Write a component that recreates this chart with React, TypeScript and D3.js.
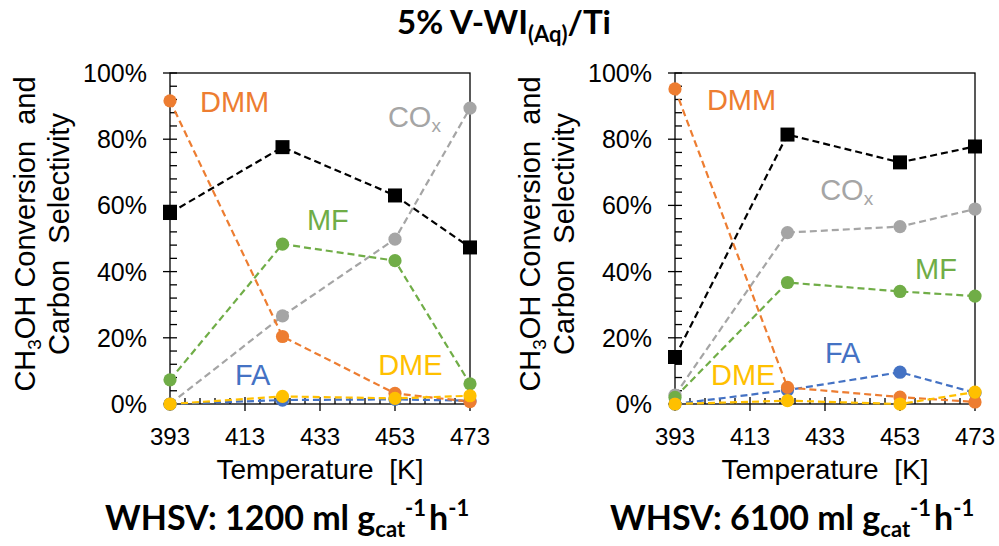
import React from "react";
import * as d3 from "d3";

// Reaction temperatures (K) and axis ticks
const temps = [393, 423, 453, 473];
const xTicks = [393, 413, 433, 453, 473];
const yTicks = [0, 20, 40, 60, 80, 100];

// WHSV 1200 ml g_cat^-1 h^-1 (values in %)
const conv1200 = [57.7, 77.6, 63.0, 47.3];
const dmm1200 = [91.6, 20.4, 3.2, 0.7];
const mf1200 = [7.3, 48.3, 43.3, 6.1];
const cox1200 = [0, 26.6, 49.8, 89.4];
const fa1200 = [0, 1.2, 1.4, 1.0];
const dme1200 = [0, 2.3, 1.7, 2.5];

// WHSV 6100 ml g_cat^-1 h^-1 (values in %)
const conv6100 = [14.2, 81.4, 73.0, 77.8];
const dmm6100 = [95.2, 5.0, 2.1, 0.6];
const mf6100 = [2.0, 36.7, 34.0, 32.6];
const cox6100 = [2.7, 51.8, 53.6, 58.9];
const fa6100 = [0, 4.2, 9.6, 3.4];
const dme6100 = [0, 1.0, 0, 3.6];

const whsvValues = ["1200", "6100"];

// Series label anchors: [temperature K, percent]
const labels1200 = {
  DMM: [401.0, 88.3],
  COx: [451.1, 83.8],
  MF: [429.5, 52.6],
  FA: [410.3, 5.7],
  DME: [448.5, 8.8],
};
const labels6100 = {
  DMM: [401.5, 88.8],
  COx: [431.7, 61.6],
  MF: [457.0, 37.8],
  FA: [433.0, 12.4],
  DME: [402.6, 5.7],
};

const COLORS = {
  conv: "#000000",
  DMM: "#ED7D31",
  COx: "#A5A5A5",
  MF: "#70AD47",
  FA: "#4472C4",
  DME: "#FFC000",
};

const SANS = "'Liberation Sans', Arial, sans-serif";
const BOLD = "Lato, 'Open Sans', sans-serif";

const W = 999;
const H = 546;
const PLOT_W = 300;
const PLOT_TOP = 73;
const PLOT_BOTTOM = 404;
const PANEL_STEP = 505;
const PLOT_LEFT0 = 170;

type PanelProps = {
  offset: number;
  conv: number[];
  dmm: number[];
  mf: number[];
  cox: number[];
  fa: number[];
  dme: number[];
  labels: Record<string, number[]>;
  whsv: string;
};

function Panel({ offset, conv, dmm, mf, cox, fa, dme, labels, whsv }: PanelProps) {
  const left = PLOT_LEFT0 + offset;
  const x = d3.scaleLinear().domain([393, 473]).range([left, left + PLOT_W]);
  const y = d3.scaleLinear().domain([0, 100]).range([PLOT_BOTTOM, PLOT_TOP]);
  const line = d3
    .line<number>()
    .x((_, i) => x(temps[i]))
    .y((d) => y(d));

  const minorY = d3.range(0, 101, 4).filter((v) => v % 20 !== 0);
  const minorX = d3.range(393, 474, 4).filter((v) => (v - 393) % 20 !== 0);

  const circleSeries = [
    { key: "COx", data: cox },
    { key: "MF", data: mf },
    { key: "FA", data: fa },
    { key: "DMM", data: dmm },
    { key: "DME", data: dme },
  ];

  const titleCx = offset + 35;
  const titleCy = 234;
  const dash = "7,4";

  return (
    <g>
      {/* frame */}
      <rect
        x={left}
        y={PLOT_TOP}
        width={PLOT_W}
        height={PLOT_BOTTOM - PLOT_TOP}
        fill="none"
        stroke="#000"
        strokeWidth={1.3}
      />
      {/* y ticks */}
      {yTicks.map((t) => (
        <line key={"ym" + t} x1={left - 7} x2={left + 7} y1={y(t)} y2={y(t)} stroke="#000" strokeWidth={1.3} />
      ))}
      {minorY.map((t) => (
        <line key={"yn" + t} x1={left} x2={left + 7} y1={y(t)} y2={y(t)} stroke="#000" strokeWidth={1.3} />
      ))}
      {/* x ticks */}
      {xTicks.map((t) => (
        <line key={"xm" + t} x1={x(t)} x2={x(t)} y1={PLOT_BOTTOM - 7} y2={PLOT_BOTTOM + 7} stroke="#000" strokeWidth={1.3} />
      ))}
      {minorX.map((t) => (
        <line key={"xn" + t} x1={x(t)} x2={x(t)} y1={PLOT_BOTTOM - 6} y2={PLOT_BOTTOM} stroke="#000" strokeWidth={1.3} />
      ))}
      {/* tick labels */}
      {yTicks.map((t) => (
        <text
          key={"yl" + t}
          x={left - 23}
          y={y(t)}
          dy="0.36em"
          textAnchor="end"
          fontFamily={SANS}
          fontSize={25}
          fill="#000"
        >
          {t}%
        </text>
      ))}
      {xTicks.map((t) => (
        <text key={"xl" + t} x={x(t)} y={445} textAnchor="middle" fontFamily={SANS} fontSize={24} fill="#000">
          {t}
        </text>
      ))}

      {/* series lines */}
      <path d={line(conv) || ""} fill="none" stroke={COLORS.conv} strokeWidth={2.2} strokeDasharray={dash} />
      {circleSeries.map((s) => (
        <path
          key={"l" + s.key}
          d={line(s.data) || ""}
          fill="none"
          stroke={(COLORS as any)[s.key]}
          strokeWidth={2.2}
          strokeDasharray={dash}
        />
      ))}
      {/* markers */}
      {conv.map((v, i) => (
        <rect key={"sq" + i} x={x(temps[i]) - 7} y={y(v) - 7} width={14} height={14} fill={COLORS.conv} />
      ))}
      {circleSeries.map((s) =>
        s.data.map((v, i) => (
          <circle key={s.key + i} cx={x(temps[i])} cy={y(v)} r={6.6} fill={(COLORS as any)[s.key]} />
        ))
      )}

      {/* series labels */}
      {["DMM", "MF", "FA", "DME"].map((k) => (
        <text
          key={"t" + k}
          x={x(labels[k][0])}
          y={y(labels[k][1])}
          fontFamily={SANS}
          fontSize={29}
          fill={(COLORS as any)[k]}
        >
          {k}
        </text>
      ))}
      <text x={x(labels.COx[0])} y={y(labels.COx[1])} fontFamily={SANS} fontSize={29} fill={COLORS.COx}>
        CO
        <tspan fontSize={19} dy={5}>
          x
        </tspan>
      </text>

      {/* y axis title */}
      <g transform={`translate(${titleCx},${titleCy}) rotate(-90)`}>
        <text x={0} y={0} textAnchor="middle" fontFamily={SANS} fontSize={29} fill="#000" style={{ whiteSpace: "pre" }}>
          CH
          <tspan fontSize={19} dy={6}>
            3
          </tspan>
          <tspan dy={-6}>{"OH Conversion  and"}</tspan>
        </text>
        <text x={0} y={34} textAnchor="middle" fontFamily={SANS} fontSize={29} fill="#000" style={{ whiteSpace: "pre" }}>
          {"Carbon  Selectivity"}
        </text>
      </g>

      {/* x axis title */}
      <text
        x={left + PLOT_W / 2}
        y={479}
        textAnchor="middle"
        fontFamily={SANS}
        fontSize={28}
        fill="#000"
        style={{ whiteSpace: "pre" }}
      >
        {"Temperature  [K]"}
      </text>

      {/* space velocity */}
      <text x={offset + 105} y={530} fontFamily={BOLD} fontWeight={700} fontSize={34} fill="#000">
        {`WHSV: ${whsv} ml g`}
        <tspan fontSize={22} dy={7}>
          cat
        </tspan>
        <tspan fontSize={22} dy={-21}>
          -1
        </tspan>
        <tspan dx={3} dy={14}>h</tspan>
        <tspan fontSize={22} dy={-14}>
          -1
        </tspan>
      </text>
    </g>
  );
}

export default function App() {
  return (
    <svg
      width={W}
      height={H}
      viewBox={`0 0 ${W} ${H}`}
      style={{ display: "block", position: "absolute", left: 0, top: 0, background: "#fff" }}
    >
      <rect width={W} height={H} fill="#fff" />
      <text x={504} y={34} textAnchor="middle" fontFamily={BOLD} fontWeight={700} fontSize={33} fill="#000">
        5% V-WI
        <tspan fontSize={22} dy={8}>
          (Aq)
        </tspan>
        <tspan dy={-8}>/Ti</tspan>
      </text>
      <Panel
        offset={0}
        conv={conv1200}
        dmm={dmm1200}
        mf={mf1200}
        cox={cox1200}
        fa={fa1200}
        dme={dme1200}
        labels={labels1200}
        whsv={whsvValues[0]}
      />
      <Panel
        offset={PANEL_STEP}
        conv={conv6100}
        dmm={dmm6100}
        mf={mf6100}
        cox={cox6100}
        fa={fa6100}
        dme={dme6100}
        labels={labels6100}
        whsv={whsvValues[1]}
      />
    </svg>
  );
}
